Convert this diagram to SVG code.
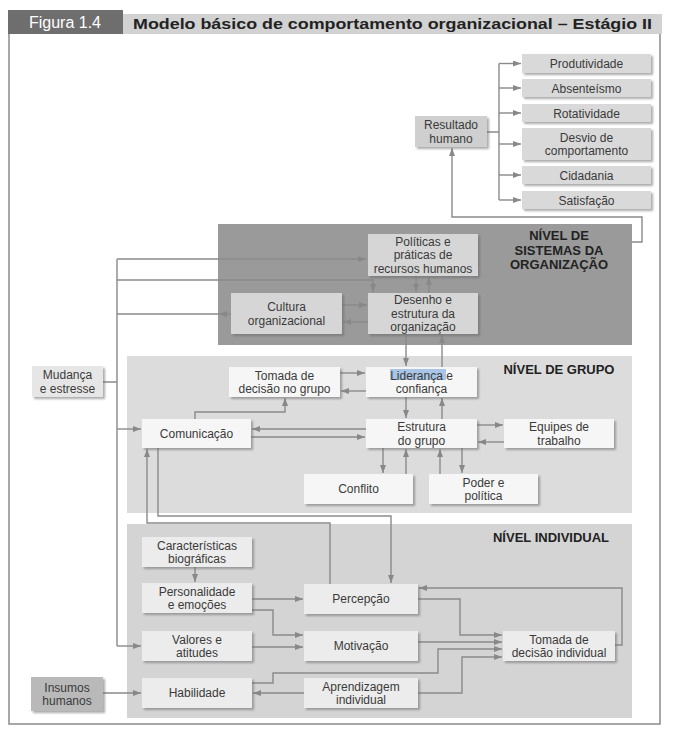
<svg xmlns="http://www.w3.org/2000/svg" width="686" height="733" viewBox="0 0 686 733">
<defs>
<filter id="sh" x="-10%" y="-10%" width="130%" height="140%"><feDropShadow dx="2" dy="2" stdDeviation="1" flood-color="#666" flood-opacity="0.55"/></filter>
<marker id="ah" markerWidth="9" markerHeight="7" refX="8" refY="3" orient="auto" markerUnits="userSpaceOnUse"><path d="M0,0 L8,3 L0,6 z" fill="#888"/></marker>
</defs>
<style>
text{font-family:"Liberation Sans",Arial,sans-serif;font-size:12px;fill:#3a3a3a;text-anchor:middle}
.lvl{font-weight:bold;font-size:13px;fill:#222}
.c path{fill:none;stroke:#8a8a8a;stroke-width:1.4}
.a{marker-end:url(#ah)}
.bo{fill:#d9d9d9;filter:url(#sh)}
.bg{fill:#f6f6f6;filter:url(#sh)}
.bi{fill:#ececec;filter:url(#sh)}
.bq{fill:#d6d6d6;filter:url(#sh)}
.frame{fill:none;stroke:#8a8a8a;stroke-width:1.5}
</style>
<rect width="686" height="733" fill="#fff"/>
<g id="header">
<rect x="123" y="14" width="539" height="20" fill="#d2d2d2"/>
<rect x="8" y="10" width="115" height="24" fill="#6e6e6e"/>
<text x="65" y="28" style="fill:#fff;font-size:16px">Figura 1.4</text>
<text x="133" y="29" textLength="519" lengthAdjust="spacingAndGlyphs" style="font-weight:bold;font-size:15px;fill:#222;text-anchor:start">Modelo básico de comportamento organizacional – Estágio II</text>
<path class="frame" d="M9,34 V724 H660 V34"/>
</g>
<g id="nivel-organizacao">
<rect x="218" y="224" width="414" height="121" fill="#9a9a9a"/>
<text class="lvl" x="559" y="240">NÍVEL DE</text>
<text class="lvl" x="559" y="254.5">SISTEMAS DA</text>
<text class="lvl" x="559" y="269">ORGANIZAÇÃO</text>
</g>
<g id="nivel-grupo">
<rect x="127" y="356" width="505" height="157" fill="#dcdcdc"/>
<text class="lvl" x="559" y="374">NÍVEL DE GRUPO</text>
</g>
<g id="nivel-individual">
<rect x="127" y="524" width="505" height="194" fill="#d4d4d4"/>
<text class="lvl" x="551" y="542">NÍVEL INDIVIDUAL</text>
</g>
<g id="connectors" class="c">
<path d="M487,132 H499 M499,63.5 V200"/>
<path class="a" d="M499,63.5 H521"/>
<path class="a" d="M499,88 H521"/>
<path class="a" d="M499,113 H521"/>
<path class="a" d="M499,144 H521"/>
<path class="a" d="M499,175 H521"/>
<path class="a" d="M499,200 H521"/>
<path class="a" d="M632,242 H642 V217 H452 V148"/>
<path d="M117,259 V646 M103,382 H117"/>
<path class="a" d="M117,259 H366"/>
<path class="a" d="M117,280 H373 V292"/>
<path class="a" d="M231,314 H219"/>
<path d="M219,314 H117"/>
<path class="a" d="M117,429 H141"/>
<path class="a" d="M117,646 H141"/>
<path class="a" d="M342,305 H367"/>
<path class="a" d="M368,322 H343"/>
<path class="a" d="M416,276 V292"/>
<path class="a" d="M429,293 V277"/>
<path class="a" d="M406,334 V366"/>
<path class="a" d="M442,367 V335"/>
<path class="a" d="M340,373 H365"/>
<path class="a" d="M366,391 H341"/>
<path class="a" d="M406,397 V418"/>
<path class="a" d="M442,419 V398"/>
<path class="a" d="M366,429 H252"/>
<path class="a" d="M251,437 H365"/>
<path class="a" d="M195,419 V412 H285 V398"/>
<path class="a" d="M477,425 H503"/>
<path class="a" d="M504,442 H478"/>
<path class="a" d="M383,448 V473"/>
<path class="a" d="M406,474 V449"/>
<path class="a" d="M440,474 V449"/>
<path class="a" d="M462,448 V473"/>
<path class="a" d="M158,448 V516 H391 V583"/>
<path class="a" d="M330,584 V523 H147 V449"/>
<path class="a" d="M195,567 V582"/>
<path class="a" d="M252,599 H303"/>
<path class="a" d="M252,610 H273 V635 H303"/>
<path class="a" d="M252,647 H303"/>
<path class="a" d="M418,599 H460 V635 H502"/>
<path class="a" d="M418,642 H502"/>
<path class="a" d="M252,683 H273 V673 H438 V649 H502"/>
<path class="a" d="M304,693 H253"/>
<path class="a" d="M418,693 H462 V657 H502"/>
<path class="a" d="M615,645 H622 V588 H419"/>
<path class="a" d="M103,693 H141"/>
</g>
<g id="resultado-humano"><rect x="415" y="116" width="72" height="31" fill="#cfcfcf" filter="url(#sh)"/><text x="451" y="129">Resultado</text><text x="451" y="142.5">humano</text></g>
<g id="produtividade"><rect class="bo" x="522" y="54" width="129" height="19"/><text x="586.5" y="68">Produtividade</text></g>
<g id="absenteismo"><rect class="bo" x="522" y="79" width="129" height="18"/><text x="586.5" y="92.5">Absenteísmo</text></g>
<g id="rotatividade"><rect class="bo" x="522" y="104" width="129" height="18"/><text x="586.5" y="117.5">Rotatividade</text></g>
<g id="desvio"><rect class="bo" x="522" y="128" width="129" height="32"/><text x="586.5" y="141.5">Desvio de</text><text x="586.5" y="155">comportamento</text></g>
<g id="cidadania"><rect class="bo" x="522" y="166" width="129" height="18"/><text x="586.5" y="179.5">Cidadania</text></g>
<g id="satisfacao"><rect class="bo" x="522" y="191" width="129" height="18"/><text x="586.5" y="204.5">Satisfação</text></g>
<g id="politicas"><rect class="bq" x="368" y="234" width="110" height="42"/><text x="423" y="245.5">Políticas e</text><text x="423" y="259">práticas de</text><text x="423" y="272.5">recursos humanos</text></g>
<g id="cultura"><rect class="bq" x="231" y="293" width="111" height="41"/><text x="286.5" y="311">Cultura</text><text x="286.5" y="324.5">organizacional</text></g>
<g id="desenho"><rect class="bq" x="368" y="293" width="110" height="41"/><text x="423" y="304">Desenho e</text><text x="423" y="317.5">estrutura da</text><text x="423" y="331">organização</text></g>
<g id="mudanca"><rect x="32" y="366" width="71" height="31" fill="#e6e6e6" filter="url(#sh)"/><text x="67.5" y="379">Mudança</text><text x="67.5" y="392.5">e estresse</text></g>
<g id="insumos"><rect x="31" y="677" width="72" height="34" fill="#b9b9b9" filter="url(#sh)"/><text x="67" y="691.5">Insumos</text><text x="67" y="705">humanos</text></g>
<g id="tomada-grupo"><rect class="bg" x="229" y="367" width="111" height="30"/><text x="284.5" y="379.5">Tomada de</text><text x="284.5" y="393">decisão no grupo</text></g>
<g id="lideranca"><rect class="bg" x="366" y="367" width="111" height="30"/><rect x="390" y="369" width="56" height="11" fill="#a9c5e5"/><text x="421.5" y="379.5">Liderança e</text><text x="421.5" y="393">confiança</text></g>
<g id="comunicacao"><rect class="bg" x="142" y="419" width="109" height="29"/><text x="196.5" y="437.5">Comunicação</text></g>
<g id="estrutura-grupo"><rect class="bg" x="366" y="419" width="111" height="29"/><text x="421.5" y="431">Estrutura</text><text x="421.5" y="444.5">do grupo</text></g>
<g id="equipes"><rect class="bg" x="504" y="419" width="110" height="29"/><text x="559" y="431">Equipes de</text><text x="559" y="444.5">trabalho</text></g>
<g id="conflito"><rect class="bg" x="304" y="474" width="109" height="30"/><text x="358.5" y="493">Conflito</text></g>
<g id="poder"><rect class="bg" x="429" y="474" width="109" height="30"/><text x="483.5" y="486.5">Poder e</text><text x="483.5" y="500">política</text></g>
<g id="caracteristicas"><rect class="bi" x="142" y="537" width="110" height="30"/><text x="197" y="549.5">Características</text><text x="197" y="563">biográficas</text></g>
<g id="personalidade"><rect class="bi" x="142" y="583" width="110" height="30"/><text x="197" y="595.5">Personalidade</text><text x="197" y="609">e emoções</text></g>
<g id="valores"><rect class="bi" x="142" y="631" width="110" height="30"/><text x="197" y="643.5">Valores e</text><text x="197" y="657">atitudes</text></g>
<g id="habilidade"><rect class="bi" x="142" y="678" width="110" height="30"/><text x="197" y="697">Habilidade</text></g>
<g id="percepcao"><rect class="bi" x="304" y="584" width="114" height="30"/><text x="361" y="603">Percepção</text></g>
<g id="motivacao"><rect class="bi" x="304" y="631" width="114" height="30"/><text x="361" y="650">Motivação</text></g>
<g id="aprendizagem"><rect class="bi" x="304" y="678" width="114" height="30"/><text x="361" y="690.5">Aprendizagem</text><text x="361" y="704">individual</text></g>
<g id="tomada-individual"><rect class="bi" x="503" y="631" width="112" height="30"/><text x="559" y="643.5">Tomada de</text><text x="559" y="657">decisão individual</text></g>
</svg>
